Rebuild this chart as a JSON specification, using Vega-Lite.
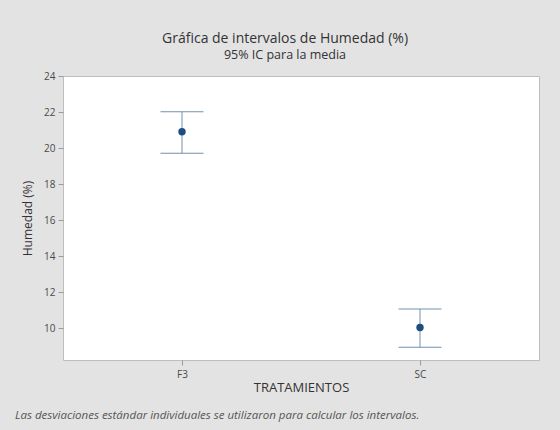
{
  "$schema": "https://vega.github.io/schema/vega-lite/v6.json",
  "background": "#e3e3e3",
  "padding": {"left": 15, "top": 31, "right": 21, "bottom": 12},
  "config": {
    "font": "Open Sans",
    "view": {"fill": "white", "stroke": "#bdbdbd", "strokeWidth": 1},
    "axis": {
      "labelFont": "Open Sans",
      "titleFont": "Open Sans",
      "labelColor": "#4a4a4a",
      "titleColor": "#333333",
      "tickColor": "#9a9a9a",
      "tickSize": 5,
      "domain": false,
      "grid": false
    }
  },
  "title": {
    "text": "Las desviaciones estándar individuales se utilizaron para calcular los intervalos.",
    "orient": "bottom",
    "anchor": "start",
    "frame": "group",
    "dx": -48,
    "offset": 15,
    "font": "Open Sans",
    "fontSize": 11.5,
    "fontStyle": "italic",
    "fontWeight": "normal",
    "color": "#555555"
  },
  "vconcat": [
    {
      "width": 476,
      "height": 284,
      "title": {
        "text": "Gráfica de intervalos de Humedad (%)",
        "subtitle": "95% IC para la media",
        "anchor": "middle",
        "frame": "group",
        "dx": -16,
        "offset": 10,
        "font": "Open Sans",
        "fontSize": 14,
        "fontWeight": "normal",
        "color": "#333333",
        "subtitleFont": "Open Sans",
        "subtitleFontSize": 12.5,
        "subtitleColor": "#333333",
        "subtitlePadding": 3
      },
      "data": {
        "values": [
          {"tratamiento": "F3", "media": 20.91, "inferior": 19.72, "superior": 22.02},
          {"tratamiento": "SC", "media": 10.05, "inferior": 8.96, "superior": 11.08}
        ]
      },
      "encoding": {
        "x": {
          "field": "tratamiento",
          "type": "nominal",
          "scale": {"type": "point", "padding": 0.5},
          "axis": {
            "title": "TRATAMIENTOS",
            "labelAngle": 0,
            "labelFontSize": 10,
            "labelPadding": 4,
            "titleFontSize": 13,
            "titleFontWeight": "normal",
            "titlePadding": 2
          }
        }
      },
      "layer": [
        {
          "mark": {"type": "rule", "color": "#7391b0", "strokeWidth": 1},
          "encoding": {
            "y": {
              "field": "inferior",
              "type": "quantitative",
              "title": "Humedad (%)",
              "scale": {"domain": [8.25, 24], "nice": false, "zero": false},
              "axis": {
                "values": [10, 12, 14, 16, 18, 20, 22, 24],
                "labelFontSize": 10,
                "labelPadding": 3,
                "titleFontSize": 12,
                "titleFontWeight": "normal",
                "titlePadding": 9
              }
            },
            "y2": {"field": "superior"}
          }
        },
        {
          "mark": {"type": "tick", "orient": "horizontal", "size": 43, "thickness": 1, "color": "#7391b0", "opacity": 1},
          "encoding": {
            "y": {"field": "superior", "type": "quantitative", "title": "Humedad (%)"}
          }
        },
        {
          "mark": {"type": "tick", "orient": "horizontal", "size": 43, "thickness": 1, "color": "#7391b0", "opacity": 1},
          "encoding": {
            "y": {"field": "inferior", "type": "quantitative", "title": "Humedad (%)"}
          }
        },
        {
          "mark": {"type": "point", "filled": true, "size": 55, "color": "#1d4e7f", "opacity": 1},
          "encoding": {
            "y": {"field": "media", "type": "quantitative", "title": "Humedad (%)"}
          }
        }
      ]
    }
  ]
}
